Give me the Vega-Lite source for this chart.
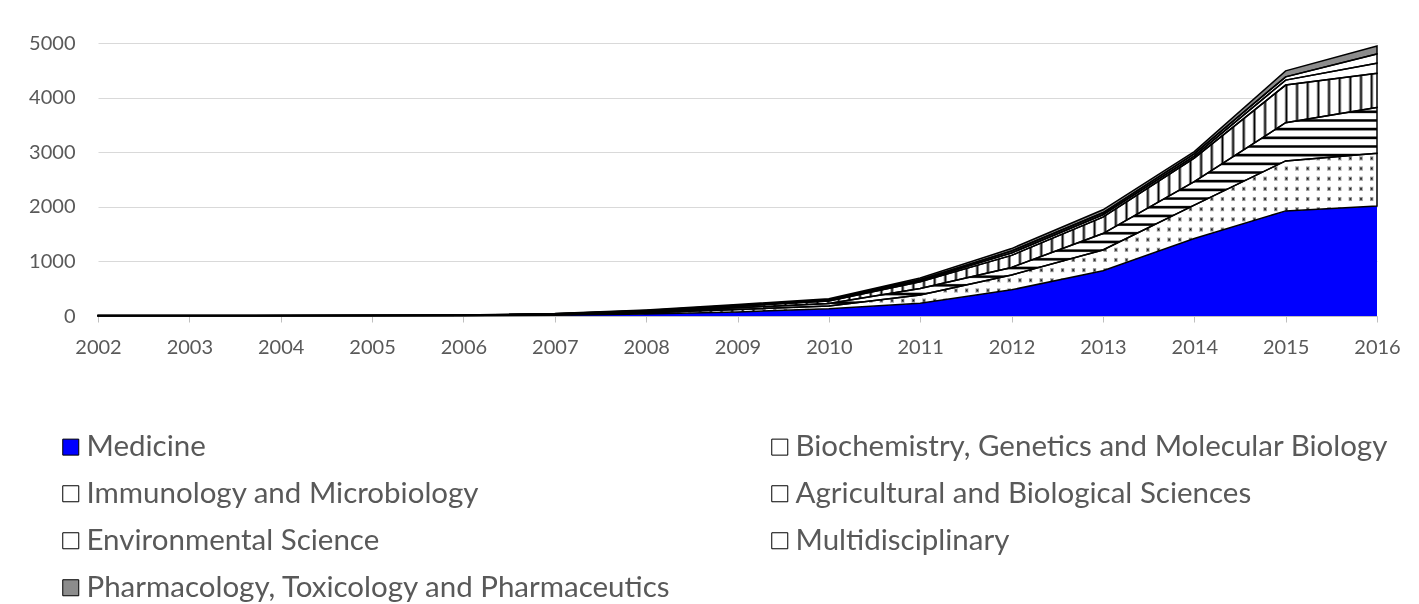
{
"$schema":"https://vega.github.io/schema/vega-lite/v6.json",
"width":1279,"height":273,
"autosize":{"type":"none"},
"padding":{"left":98,"top":43,"right":42,"bottom":288},
"background":"white",
"config":{"view":{"stroke":null},"font":"Lato"},
"params":[
{"name":"vs","value":{"gradient":"linear","x1":0,"y1":0,"x2":1,"y2":0,"stops":[
{"offset":0.0025,"color":"#fff"},{"offset":0.0042,"color":"#000"},{"offset":0.0058,"color":"#fff"},{"offset":0.0108,"color":"#fff"},{"offset":0.0125,"color":"#000"},{"offset":0.0142,"color":"#fff"},{"offset":0.0192,"color":"#fff"},{"offset":0.0208,"color":"#000"},{"offset":0.0225,"color":"#fff"},{"offset":0.0275,"color":"#fff"},{"offset":0.0292,"color":"#000"},{"offset":0.0308,"color":"#fff"},{"offset":0.0358,"color":"#fff"},{"offset":0.0375,"color":"#000"},{"offset":0.0392,"color":"#fff"},{"offset":0.0442,"color":"#fff"},{"offset":0.0458,"color":"#000"},{"offset":0.0475,"color":"#fff"},{"offset":0.0525,"color":"#fff"},{"offset":0.0542,"color":"#000"},{"offset":0.0558,"color":"#fff"},{"offset":0.0608,"color":"#fff"},{"offset":0.0625,"color":"#000"},{"offset":0.0642,"color":"#fff"},{"offset":0.0692,"color":"#fff"},{"offset":0.0708,"color":"#000"},{"offset":0.0725,"color":"#fff"},{"offset":0.0775,"color":"#fff"},{"offset":0.0792,"color":"#000"},{"offset":0.0808,"color":"#fff"},{"offset":0.0858,"color":"#fff"},{"offset":0.0875,"color":"#000"},{"offset":0.0892,"color":"#fff"},{"offset":0.0942,"color":"#fff"},{"offset":0.0958,"color":"#000"},{"offset":0.0975,"color":"#fff"},
{"offset":0.1025,"color":"#fff"},{"offset":0.1042,"color":"#000"},{"offset":0.1058,"color":"#fff"},{"offset":0.1108,"color":"#fff"},{"offset":0.1125,"color":"#000"},{"offset":0.1142,"color":"#fff"},{"offset":0.1192,"color":"#fff"},{"offset":0.1208,"color":"#000"},{"offset":0.1225,"color":"#fff"},{"offset":0.1275,"color":"#fff"},{"offset":0.1292,"color":"#000"},{"offset":0.1308,"color":"#fff"},{"offset":0.1358,"color":"#fff"},{"offset":0.1375,"color":"#000"},{"offset":0.1392,"color":"#fff"},{"offset":0.1442,"color":"#fff"},{"offset":0.1458,"color":"#000"},{"offset":0.1475,"color":"#fff"},{"offset":0.1525,"color":"#fff"},{"offset":0.1542,"color":"#000"},{"offset":0.1558,"color":"#fff"},{"offset":0.1608,"color":"#fff"},{"offset":0.1625,"color":"#000"},{"offset":0.1642,"color":"#fff"},{"offset":0.1692,"color":"#fff"},{"offset":0.1708,"color":"#000"},{"offset":0.1725,"color":"#fff"},{"offset":0.1775,"color":"#fff"},{"offset":0.1792,"color":"#000"},{"offset":0.1808,"color":"#fff"},{"offset":0.1858,"color":"#fff"},{"offset":0.1875,"color":"#000"},{"offset":0.1892,"color":"#fff"},{"offset":0.1942,"color":"#fff"},{"offset":0.1958,"color":"#000"},{"offset":0.1975,"color":"#fff"},
{"offset":0.2025,"color":"#fff"},{"offset":0.2042,"color":"#000"},{"offset":0.2058,"color":"#fff"},{"offset":0.2108,"color":"#fff"},{"offset":0.2125,"color":"#000"},{"offset":0.2142,"color":"#fff"},{"offset":0.2192,"color":"#fff"},{"offset":0.2208,"color":"#000"},{"offset":0.2225,"color":"#fff"},{"offset":0.2275,"color":"#fff"},{"offset":0.2292,"color":"#000"},{"offset":0.2308,"color":"#fff"},{"offset":0.2358,"color":"#fff"},{"offset":0.2375,"color":"#000"},{"offset":0.2392,"color":"#fff"},{"offset":0.2442,"color":"#fff"},{"offset":0.2458,"color":"#000"},{"offset":0.2475,"color":"#fff"},{"offset":0.2525,"color":"#fff"},{"offset":0.2542,"color":"#000"},{"offset":0.2558,"color":"#fff"},{"offset":0.2608,"color":"#fff"},{"offset":0.2625,"color":"#000"},{"offset":0.2642,"color":"#fff"},{"offset":0.2692,"color":"#fff"},{"offset":0.2708,"color":"#000"},{"offset":0.2725,"color":"#fff"},{"offset":0.2775,"color":"#fff"},{"offset":0.2792,"color":"#000"},{"offset":0.2808,"color":"#fff"},{"offset":0.2858,"color":"#fff"},{"offset":0.2875,"color":"#000"},{"offset":0.2892,"color":"#fff"},{"offset":0.2942,"color":"#fff"},{"offset":0.2958,"color":"#000"},{"offset":0.2975,"color":"#fff"},
{"offset":0.3025,"color":"#fff"},{"offset":0.3042,"color":"#000"},{"offset":0.3058,"color":"#fff"},{"offset":0.3108,"color":"#fff"},{"offset":0.3125,"color":"#000"},{"offset":0.3142,"color":"#fff"},{"offset":0.3192,"color":"#fff"},{"offset":0.3208,"color":"#000"},{"offset":0.3225,"color":"#fff"},{"offset":0.3275,"color":"#fff"},{"offset":0.3292,"color":"#000"},{"offset":0.3308,"color":"#fff"},{"offset":0.3358,"color":"#fff"},{"offset":0.3375,"color":"#000"},{"offset":0.3392,"color":"#fff"},{"offset":0.3442,"color":"#fff"},{"offset":0.3458,"color":"#000"},{"offset":0.3475,"color":"#fff"},{"offset":0.3525,"color":"#fff"},{"offset":0.3542,"color":"#000"},{"offset":0.3558,"color":"#fff"},{"offset":0.3608,"color":"#fff"},{"offset":0.3625,"color":"#000"},{"offset":0.3642,"color":"#fff"},{"offset":0.3692,"color":"#fff"},{"offset":0.3708,"color":"#000"},{"offset":0.3725,"color":"#fff"},{"offset":0.3775,"color":"#fff"},{"offset":0.3792,"color":"#000"},{"offset":0.3808,"color":"#fff"},{"offset":0.3858,"color":"#fff"},{"offset":0.3875,"color":"#000"},{"offset":0.3892,"color":"#fff"},{"offset":0.3942,"color":"#fff"},{"offset":0.3958,"color":"#000"},{"offset":0.3975,"color":"#fff"},
{"offset":0.4025,"color":"#fff"},{"offset":0.4042,"color":"#000"},{"offset":0.4058,"color":"#fff"},{"offset":0.4108,"color":"#fff"},{"offset":0.4125,"color":"#000"},{"offset":0.4142,"color":"#fff"},{"offset":0.4192,"color":"#fff"},{"offset":0.4208,"color":"#000"},{"offset":0.4225,"color":"#fff"},{"offset":0.4275,"color":"#fff"},{"offset":0.4292,"color":"#000"},{"offset":0.4308,"color":"#fff"},{"offset":0.4358,"color":"#fff"},{"offset":0.4375,"color":"#000"},{"offset":0.4392,"color":"#fff"},{"offset":0.4442,"color":"#fff"},{"offset":0.4458,"color":"#000"},{"offset":0.4475,"color":"#fff"},{"offset":0.4525,"color":"#fff"},{"offset":0.4542,"color":"#000"},{"offset":0.4558,"color":"#fff"},{"offset":0.4608,"color":"#fff"},{"offset":0.4625,"color":"#000"},{"offset":0.4642,"color":"#fff"},{"offset":0.4692,"color":"#fff"},{"offset":0.4708,"color":"#000"},{"offset":0.4725,"color":"#fff"},{"offset":0.4775,"color":"#fff"},{"offset":0.4792,"color":"#000"},{"offset":0.4808,"color":"#fff"},{"offset":0.4858,"color":"#fff"},{"offset":0.4875,"color":"#000"},{"offset":0.4892,"color":"#fff"},{"offset":0.4942,"color":"#fff"},{"offset":0.4958,"color":"#000"},{"offset":0.4975,"color":"#fff"},
{"offset":0.5025,"color":"#fff"},{"offset":0.5042,"color":"#000"},{"offset":0.5058,"color":"#fff"},{"offset":0.5108,"color":"#fff"},{"offset":0.5125,"color":"#000"},{"offset":0.5142,"color":"#fff"},{"offset":0.5192,"color":"#fff"},{"offset":0.5208,"color":"#000"},{"offset":0.5225,"color":"#fff"},{"offset":0.5275,"color":"#fff"},{"offset":0.5292,"color":"#000"},{"offset":0.5308,"color":"#fff"},{"offset":0.5358,"color":"#fff"},{"offset":0.5375,"color":"#000"},{"offset":0.5392,"color":"#fff"},{"offset":0.5442,"color":"#fff"},{"offset":0.5458,"color":"#000"},{"offset":0.5475,"color":"#fff"},{"offset":0.5525,"color":"#fff"},{"offset":0.5542,"color":"#000"},{"offset":0.5558,"color":"#fff"},{"offset":0.5608,"color":"#fff"},{"offset":0.5625,"color":"#000"},{"offset":0.5642,"color":"#fff"},{"offset":0.5692,"color":"#fff"},{"offset":0.5708,"color":"#000"},{"offset":0.5725,"color":"#fff"},{"offset":0.5775,"color":"#fff"},{"offset":0.5792,"color":"#000"},{"offset":0.5808,"color":"#fff"},{"offset":0.5858,"color":"#fff"},{"offset":0.5875,"color":"#000"},{"offset":0.5892,"color":"#fff"},{"offset":0.5942,"color":"#fff"},{"offset":0.5958,"color":"#000"},{"offset":0.5975,"color":"#fff"},
{"offset":0.6025,"color":"#fff"},{"offset":0.6042,"color":"#000"},{"offset":0.6058,"color":"#fff"},{"offset":0.6108,"color":"#fff"},{"offset":0.6125,"color":"#000"},{"offset":0.6142,"color":"#fff"},{"offset":0.6192,"color":"#fff"},{"offset":0.6208,"color":"#000"},{"offset":0.6225,"color":"#fff"},{"offset":0.6275,"color":"#fff"},{"offset":0.6292,"color":"#000"},{"offset":0.6308,"color":"#fff"},{"offset":0.6358,"color":"#fff"},{"offset":0.6375,"color":"#000"},{"offset":0.6392,"color":"#fff"},{"offset":0.6442,"color":"#fff"},{"offset":0.6458,"color":"#000"},{"offset":0.6475,"color":"#fff"},{"offset":0.6525,"color":"#fff"},{"offset":0.6542,"color":"#000"},{"offset":0.6558,"color":"#fff"},{"offset":0.6608,"color":"#fff"},{"offset":0.6625,"color":"#000"},{"offset":0.6642,"color":"#fff"},{"offset":0.6692,"color":"#fff"},{"offset":0.6708,"color":"#000"},{"offset":0.6725,"color":"#fff"},{"offset":0.6775,"color":"#fff"},{"offset":0.6792,"color":"#000"},{"offset":0.6808,"color":"#fff"},{"offset":0.6858,"color":"#fff"},{"offset":0.6875,"color":"#000"},{"offset":0.6892,"color":"#fff"},{"offset":0.6942,"color":"#fff"},{"offset":0.6958,"color":"#000"},{"offset":0.6975,"color":"#fff"},
{"offset":0.7025,"color":"#fff"},{"offset":0.7042,"color":"#000"},{"offset":0.7058,"color":"#fff"},{"offset":0.7108,"color":"#fff"},{"offset":0.7125,"color":"#000"},{"offset":0.7142,"color":"#fff"},{"offset":0.7192,"color":"#fff"},{"offset":0.7208,"color":"#000"},{"offset":0.7225,"color":"#fff"},{"offset":0.7275,"color":"#fff"},{"offset":0.7292,"color":"#000"},{"offset":0.7308,"color":"#fff"},{"offset":0.7358,"color":"#fff"},{"offset":0.7375,"color":"#000"},{"offset":0.7392,"color":"#fff"},{"offset":0.7442,"color":"#fff"},{"offset":0.7458,"color":"#000"},{"offset":0.7475,"color":"#fff"},{"offset":0.7525,"color":"#fff"},{"offset":0.7542,"color":"#000"},{"offset":0.7558,"color":"#fff"},{"offset":0.7608,"color":"#fff"},{"offset":0.7625,"color":"#000"},{"offset":0.7642,"color":"#fff"},{"offset":0.7692,"color":"#fff"},{"offset":0.7708,"color":"#000"},{"offset":0.7725,"color":"#fff"},{"offset":0.7775,"color":"#fff"},{"offset":0.7792,"color":"#000"},{"offset":0.7808,"color":"#fff"},{"offset":0.7858,"color":"#fff"},{"offset":0.7875,"color":"#000"},{"offset":0.7892,"color":"#fff"},{"offset":0.7942,"color":"#fff"},{"offset":0.7958,"color":"#000"},{"offset":0.7975,"color":"#fff"},
{"offset":0.8025,"color":"#fff"},{"offset":0.8042,"color":"#000"},{"offset":0.8058,"color":"#fff"},{"offset":0.8108,"color":"#fff"},{"offset":0.8125,"color":"#000"},{"offset":0.8142,"color":"#fff"},{"offset":0.8192,"color":"#fff"},{"offset":0.8208,"color":"#000"},{"offset":0.8225,"color":"#fff"},{"offset":0.8275,"color":"#fff"},{"offset":0.8292,"color":"#000"},{"offset":0.8308,"color":"#fff"},{"offset":0.8358,"color":"#fff"},{"offset":0.8375,"color":"#000"},{"offset":0.8392,"color":"#fff"},{"offset":0.8442,"color":"#fff"},{"offset":0.8458,"color":"#000"},{"offset":0.8475,"color":"#fff"},{"offset":0.8525,"color":"#fff"},{"offset":0.8542,"color":"#000"},{"offset":0.8558,"color":"#fff"},{"offset":0.8608,"color":"#fff"},{"offset":0.8625,"color":"#000"},{"offset":0.8642,"color":"#fff"},{"offset":0.8692,"color":"#fff"},{"offset":0.8708,"color":"#000"},{"offset":0.8725,"color":"#fff"},{"offset":0.8775,"color":"#fff"},{"offset":0.8792,"color":"#000"},{"offset":0.8808,"color":"#fff"},{"offset":0.8858,"color":"#fff"},{"offset":0.8875,"color":"#000"},{"offset":0.8892,"color":"#fff"},{"offset":0.8942,"color":"#fff"},{"offset":0.8958,"color":"#000"},{"offset":0.8975,"color":"#fff"},
{"offset":0.9025,"color":"#fff"},{"offset":0.9042,"color":"#000"},{"offset":0.9058,"color":"#fff"},{"offset":0.9108,"color":"#fff"},{"offset":0.9125,"color":"#000"},{"offset":0.9142,"color":"#fff"},{"offset":0.9192,"color":"#fff"},{"offset":0.9208,"color":"#000"},{"offset":0.9225,"color":"#fff"},{"offset":0.9275,"color":"#fff"},{"offset":0.9292,"color":"#000"},{"offset":0.9308,"color":"#fff"},{"offset":0.9358,"color":"#fff"},{"offset":0.9375,"color":"#000"},{"offset":0.9392,"color":"#fff"},{"offset":0.9442,"color":"#fff"},{"offset":0.9458,"color":"#000"},{"offset":0.9475,"color":"#fff"},{"offset":0.9525,"color":"#fff"},{"offset":0.9542,"color":"#000"},{"offset":0.9558,"color":"#fff"},{"offset":0.9608,"color":"#fff"},{"offset":0.9625,"color":"#000"},{"offset":0.9642,"color":"#fff"},{"offset":0.9692,"color":"#fff"},{"offset":0.9708,"color":"#000"},{"offset":0.9725,"color":"#fff"},{"offset":0.9775,"color":"#fff"},{"offset":0.9792,"color":"#000"},{"offset":0.9808,"color":"#fff"},{"offset":0.9858,"color":"#fff"},{"offset":0.9875,"color":"#000"},{"offset":0.9892,"color":"#fff"},{"offset":0.9942,"color":"#fff"},{"offset":0.9958,"color":"#000"},{"offset":0.9975,"color":"#fff"}
]}},
{"name":"hrows","value":{"gradient":"linear","x1":0,"y1":0,"x2":0,"y2":1,"stops":[
{"offset":0.0156,"color":"#fff"},{"offset":0.0313,"color":"#000"},{"offset":0.0469,"color":"#fff"},
{"offset":0.0781,"color":"#fff"},{"offset":0.0938,"color":"#000"},{"offset":0.1094,"color":"#fff"},
{"offset":0.1406,"color":"#fff"},{"offset":0.1563,"color":"#000"},{"offset":0.1719,"color":"#fff"},
{"offset":0.2031,"color":"#fff"},{"offset":0.2188,"color":"#000"},{"offset":0.2344,"color":"#fff"},
{"offset":0.2656,"color":"#fff"},{"offset":0.2813,"color":"#000"},{"offset":0.2969,"color":"#fff"},
{"offset":0.3281,"color":"#fff"},{"offset":0.3438,"color":"#000"},{"offset":0.3594,"color":"#fff"},
{"offset":0.3906,"color":"#fff"},{"offset":0.4063,"color":"#000"},{"offset":0.4219,"color":"#fff"},
{"offset":0.4531,"color":"#fff"},{"offset":0.4688,"color":"#000"},{"offset":0.4844,"color":"#fff"},
{"offset":0.5156,"color":"#fff"},{"offset":0.5313,"color":"#000"},{"offset":0.5469,"color":"#fff"},
{"offset":0.5781,"color":"#fff"},{"offset":0.5938,"color":"#000"},{"offset":0.6094,"color":"#fff"},
{"offset":0.6406,"color":"#fff"},{"offset":0.6563,"color":"#000"},{"offset":0.6719,"color":"#fff"},
{"offset":0.7031,"color":"#fff"},{"offset":0.7188,"color":"#000"},{"offset":0.7344,"color":"#fff"},
{"offset":0.7656,"color":"#fff"},{"offset":0.7813,"color":"#000"},{"offset":0.7969,"color":"#fff"},
{"offset":0.8281,"color":"#fff"},{"offset":0.8438,"color":"#000"},{"offset":0.8594,"color":"#fff"},
{"offset":0.8906,"color":"#fff"},{"offset":0.9063,"color":"#000"},{"offset":0.9219,"color":"#fff"},
{"offset":0.9531,"color":"#fff"},{"offset":0.9688,"color":"#000"},{"offset":0.9844,"color":"#fff"}
]}},
{"name":"hs","value":{"gradient":"linear","x1":0,"y1":0,"x2":0,"y2":1,"stops":[
{"offset":0.0117,"color":"#fff"},{"offset":0.0175,"color":"#000"},{"offset":0.0242,"color":"#000"},{"offset":0.03,"color":"#fff"},{"offset":0.0534,"color":"#fff"},{"offset":0.0592,"color":"#000"},{"offset":0.0659,"color":"#000"},{"offset":0.0717,"color":"#fff"},{"offset":0.095,"color":"#fff"},{"offset":0.1008,"color":"#000"},{"offset":0.1075,"color":"#000"},{"offset":0.1133,"color":"#fff"},
{"offset":0.1367,"color":"#fff"},{"offset":0.1425,"color":"#000"},{"offset":0.1492,"color":"#000"},{"offset":0.155,"color":"#fff"},{"offset":0.1784,"color":"#fff"},{"offset":0.1842,"color":"#000"},{"offset":0.1909,"color":"#000"},{"offset":0.1967,"color":"#fff"},{"offset":0.22,"color":"#fff"},{"offset":0.2258,"color":"#000"},{"offset":0.2325,"color":"#000"},{"offset":0.2383,"color":"#fff"},
{"offset":0.2617,"color":"#fff"},{"offset":0.2675,"color":"#000"},{"offset":0.2742,"color":"#000"},{"offset":0.28,"color":"#fff"},{"offset":0.3034,"color":"#fff"},{"offset":0.3092,"color":"#000"},{"offset":0.3159,"color":"#000"},{"offset":0.3217,"color":"#fff"},{"offset":0.345,"color":"#fff"},{"offset":0.3508,"color":"#000"},{"offset":0.3575,"color":"#000"},{"offset":0.3633,"color":"#fff"},
{"offset":0.3867,"color":"#fff"},{"offset":0.3925,"color":"#000"},{"offset":0.3992,"color":"#000"},{"offset":0.405,"color":"#fff"},{"offset":0.4284,"color":"#fff"},{"offset":0.4342,"color":"#000"},{"offset":0.4409,"color":"#000"},{"offset":0.4467,"color":"#fff"},{"offset":0.47,"color":"#fff"},{"offset":0.4758,"color":"#000"},{"offset":0.4825,"color":"#000"},{"offset":0.4883,"color":"#fff"},
{"offset":0.5117,"color":"#fff"},{"offset":0.5175,"color":"#000"},{"offset":0.5242,"color":"#000"},{"offset":0.53,"color":"#fff"},{"offset":0.5534,"color":"#fff"},{"offset":0.5592,"color":"#000"},{"offset":0.5659,"color":"#000"},{"offset":0.5717,"color":"#fff"},{"offset":0.595,"color":"#fff"},{"offset":0.6008,"color":"#000"},{"offset":0.6075,"color":"#000"},{"offset":0.6133,"color":"#fff"},
{"offset":0.6367,"color":"#fff"},{"offset":0.6425,"color":"#000"},{"offset":0.6492,"color":"#000"},{"offset":0.655,"color":"#fff"},{"offset":0.6784,"color":"#fff"},{"offset":0.6842,"color":"#000"},{"offset":0.6909,"color":"#000"},{"offset":0.6967,"color":"#fff"},{"offset":0.72,"color":"#fff"},{"offset":0.7258,"color":"#000"},{"offset":0.7325,"color":"#000"},{"offset":0.7383,"color":"#fff"},
{"offset":0.7617,"color":"#fff"},{"offset":0.7675,"color":"#000"},{"offset":0.7742,"color":"#000"},{"offset":0.78,"color":"#fff"},{"offset":0.8034,"color":"#fff"},{"offset":0.8092,"color":"#000"},{"offset":0.8159,"color":"#000"},{"offset":0.8217,"color":"#fff"},{"offset":0.845,"color":"#fff"},{"offset":0.8508,"color":"#000"},{"offset":0.8575,"color":"#000"},{"offset":0.8633,"color":"#fff"},
{"offset":0.8867,"color":"#fff"},{"offset":0.8925,"color":"#000"},{"offset":0.8992,"color":"#000"},{"offset":0.905,"color":"#fff"},{"offset":0.9284,"color":"#fff"},{"offset":0.9342,"color":"#000"},{"offset":0.9409,"color":"#000"},{"offset":0.9467,"color":"#fff"},{"offset":0.97,"color":"#fff"},{"offset":0.9758,"color":"#000"},{"offset":0.9825,"color":"#000"},{"offset":0.9883,"color":"#fff"}
]}}
],
"data":{"values":[
{"year":2002,"Medicine":3,"Biochemistry, Genetics and Molecular Biology":2,"Immunology and Microbiology":1,"Agricultural and Biological Sciences":1,"Environmental Science":1,"Multidisciplinary":0,"Pharmacology, Toxicology and Pharmaceutics":1},
{"year":2003,"Medicine":3,"Biochemistry, Genetics and Molecular Biology":2,"Immunology and Microbiology":1,"Agricultural and Biological Sciences":1,"Environmental Science":1,"Multidisciplinary":0,"Pharmacology, Toxicology and Pharmaceutics":1},
{"year":2004,"Medicine":4,"Biochemistry, Genetics and Molecular Biology":2,"Immunology and Microbiology":1,"Agricultural and Biological Sciences":1,"Environmental Science":1,"Multidisciplinary":0,"Pharmacology, Toxicology and Pharmaceutics":1},
{"year":2005,"Medicine":4,"Biochemistry, Genetics and Molecular Biology":3,"Immunology and Microbiology":2,"Agricultural and Biological Sciences":1,"Environmental Science":1,"Multidisciplinary":1,"Pharmacology, Toxicology and Pharmaceutics":1},
{"year":2006,"Medicine":6,"Biochemistry, Genetics and Molecular Biology":4,"Immunology and Microbiology":2,"Agricultural and Biological Sciences":2,"Environmental Science":1,"Multidisciplinary":1,"Pharmacology, Toxicology and Pharmaceutics":2},
{"year":2007,"Medicine":15,"Biochemistry, Genetics and Molecular Biology":10,"Immunology and Microbiology":6,"Agricultural and Biological Sciences":6,"Environmental Science":2,"Multidisciplinary":2,"Pharmacology, Toxicology and Pharmaceutics":4},
{"year":2008,"Medicine":35,"Biochemistry, Genetics and Molecular Biology":25,"Immunology and Microbiology":15,"Agricultural and Biological Sciences":15,"Environmental Science":5,"Multidisciplinary":5,"Pharmacology, Toxicology and Pharmaceutics":10},
{"year":2009,"Medicine":75,"Biochemistry, Genetics and Molecular Biology":45,"Immunology and Microbiology":30,"Agricultural and Biological Sciences":30,"Environmental Science":8,"Multidisciplinary":8,"Pharmacology, Toxicology and Pharmaceutics":14},
{"year":2010,"Medicine":135,"Biochemistry, Genetics and Molecular Biology":50,"Immunology and Microbiology":45,"Agricultural and Biological Sciences":45,"Environmental Science":12,"Multidisciplinary":12,"Pharmacology, Toxicology and Pharmaceutics":16},
{"year":2011,"Medicine":235,"Biochemistry, Genetics and Molecular Biology":150,"Immunology and Microbiology":120,"Agricultural and Biological Sciences":120,"Environmental Science":20,"Multidisciplinary":20,"Pharmacology, Toxicology and Pharmaceutics":30},
{"year":2012,"Medicine":480,"Biochemistry, Genetics and Molecular Biology":270,"Immunology and Microbiology":140,"Agricultural and Biological Sciences":220,"Environmental Science":45,"Multidisciplinary":35,"Pharmacology, Toxicology and Pharmaceutics":45},
{"year":2013,"Medicine":830,"Biochemistry, Genetics and Molecular Biology":380,"Immunology and Microbiology":300,"Agricultural and Biological Sciences":300,"Environmental Science":45,"Multidisciplinary":35,"Pharmacology, Toxicology and Pharmaceutics":55},
{"year":2014,"Medicine":1420,"Biochemistry, Genetics and Molecular Biology":610,"Immunology and Microbiology":430,"Agricultural and Biological Sciences":430,"Environmental Science":40,"Multidisciplinary":40,"Pharmacology, Toxicology and Pharmaceutics":40},
{"year":2015,"Medicine":1925,"Biochemistry, Genetics and Molecular Biology":915,"Immunology and Microbiology":700,"Agricultural and Biological Sciences":690,"Environmental Science":90,"Multidisciplinary":60,"Pharmacology, Toxicology and Pharmaceutics":110},
{"year":2016,"Medicine":2015,"Biochemistry, Genetics and Molecular Biology":965,"Immunology and Microbiology":840,"Agricultural and Biological Sciences":625,"Environmental Science":185,"Multidisciplinary":170,"Pharmacology, Toxicology and Pharmaceutics":145}
]},
"transform":[
{"fold":["Medicine","Biochemistry, Genetics and Molecular Biology","Immunology and Microbiology","Agricultural and Biological Sciences","Environmental Science","Multidisciplinary","Pharmacology, Toxicology and Pharmaceutics"],"as":["series","n"]},
{"stack":"n","groupby":["year"],"as":["y0","y1"]}
],
"encoding":{
"x":{"field":"year","type":"quantitative","scale":{"domain":[2002,2016],"nice":false,"zero":false},
"axis":{"title":null,"values":[2002,2003,2004,2005,2006,2007,2008,2009,2010,2011,2012,2013,2014,2015,2016],"format":"d","grid":false,"labelFont":"Lato","labelFontSize":20,"labelColor":"#595959","tickColor":"#bfbfbf","tickSize":6,"domainColor":"#bfbfbf","labelPadding":15,"labelFlush":false}},
"y":{"field":"y1","type":"quantitative","scale":{"domain":[0,5000],"nice":false},
"axis":{"title":null,"values":[0,1000,2000,3000,4000,5000],"format":"d","grid":true,"gridColor":"#d9d9d9","domain":false,"ticks":false,"labelFont":"Lato","labelFontSize":20,"labelColor":"#595959","labelPadding":23}},
"y2":{"field":"y0"}
},
"layer":[
{"mark":{"type":"area"},
"encoding":{"color":{"field":"series","type":"nominal",
"scale":{"domain":["Medicine","Biochemistry, Genetics and Molecular Biology","Immunology and Microbiology","Agricultural and Biological Sciences","Environmental Science","Multidisciplinary","Pharmacology, Toxicology and Pharmaceutics"],
"range":["#0000ff","#ffffff","#ffffff","#ffffff","#ffffff","#ffffff","#8c8c8c"]},
"legend":{"title":null,"orient":"none","legendX":-42,"legendY":389,"direction":"horizontal","columns":2,"columnPadding":93,"rowPadding":16,"padding":0,"symbolType":"square","symbolSize":256,"symbolStrokeColor":"black","symbolStrokeWidth":1,"labelFont":"Lato","labelFontSize":29.5,"labelColor":"#595959","labelLimit":900,"labelOffset":1}}}},
{"transform":[{"filter":"datum.series === 'Biochemistry, Genetics and Molecular Biology'"}],
"mark":{"type":"area","fill":{"expr":"hrows"}}},
{"transform":[{"filter":"datum.series === 'Biochemistry, Genetics and Molecular Biology'"}],
"mark":{"type":"area","fill":{"expr":"vs"},"blend":"lighten"}},
{"transform":[{"filter":"datum.series === 'Immunology and Microbiology'"}],
"mark":{"type":"area","fill":{"expr":"hs"}}},
{"transform":[{"filter":"datum.series === 'Agricultural and Biological Sciences'"}],
"mark":{"type":"area","fill":{"expr":"vs"}}},
{"transform":[{"filter":"datum.series !== 'Medicine'"}],
"mark":{"type":"area","fillOpacity":0,"stroke":"black","strokeWidth":1.5},
"encoding":{"detail":{"field":"series"}}}
]
}
